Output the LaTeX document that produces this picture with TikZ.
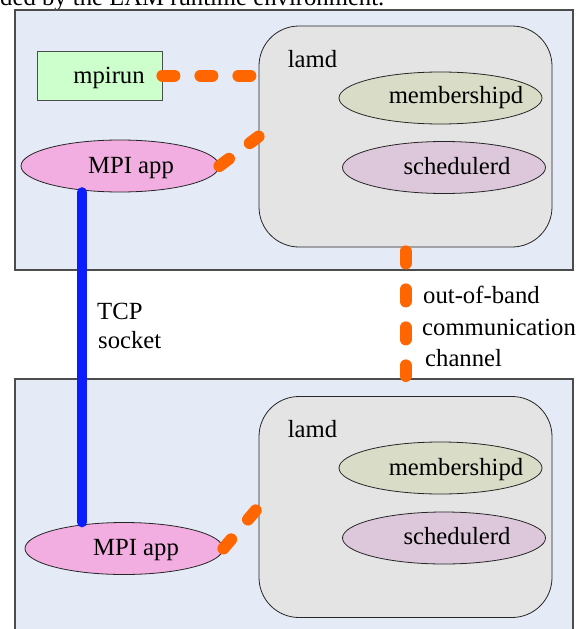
\documentclass[tikz,border=0pt]{standalone}
\usepackage{fontspec}
\setmainfont{Liberation Serif}
\usetikzlibrary{shapes.geometric}

\definecolor{hostfill}{HTML}{E4EBF6}
\definecolor{lamdfill}{HTML}{E4E4E4}
\definecolor{membfill}{HTML}{D9DDC7}
\definecolor{schedfill}{HTML}{DDC7DA}
\definecolor{appfill}{HTML}{F2AEE0}
\definecolor{runfill}{HTML}{CCFFCC}
\definecolor{oobcolor}{HTML}{FF6600}
\definecolor{tcpcolor}{HTML}{0A1EFF}

\tikzset{
  txt/.style={font=\fontsize{24.7}{29}\selectfont, inner sep=0pt},
  hostbox/.style={rectangle, draw=black!70, line width=1.4pt, fill=hostfill, inner sep=0pt},
  lamdbox/.style={rectangle, rounded corners=40pt, draw=black!85, line width=0.8pt,
                  fill=lamdfill, minimum width=293pt, minimum height=221pt, inner sep=0pt},
  daemon/.style={ellipse, draw=black!85, line width=0.8pt, minimum width=203pt,
                 minimum height=52pt, inner sep=0pt},
  appnode/.style={ellipse, draw=black!85, line width=0.8pt, fill=appfill,
                  minimum width=198pt, minimum height=52pt, inner sep=0pt},
  runbox/.style={rectangle, draw=black!70, line width=0.8pt, fill=runfill,
                 minimum width=125pt, minimum height=49pt, inner sep=0pt},
  oob/.style={draw=oobcolor, line width=12pt, line cap=round, dash pattern=on 12pt off 26pt},
  tcp/.style={draw=tcpcolor, line width=10.5pt, line cap=round}
}

\begin{document}
\begin{tikzpicture}[x=1pt, y=-1pt]
  \clip (0,0) rectangle (587,629);

  % caption line running in from the page above
  \node[txt, anchor=base west] (caption) at (0,5.5) {ded by the LAM runtime environment.};

  % the two hosts
  \node[hostbox, minimum width=558pt, minimum height=260pt] (host1) at (294,140) {};
  \node[hostbox, minimum width=558pt, minimum height=270pt] (host2) at (294,514) {};

  % LAM daemons with their internal services
  \node[lamdbox] (lamd1) at (405.5,136.5) {};
  \node[lamdbox] (lamd2) at (405.5,507) {};
  \node[daemon, fill=membfill] (memb1) at (440.5,98) {};
  \node[daemon, fill=schedfill] (sched1) at (444,167.5) {};
  \node[daemon, fill=membfill] (memb2) at (440.5,468) {};
  \node[daemon, fill=schedfill] (sched2) at (444,538) {};

  % user processes
  \node[runbox] (mpirun) at (99.5,75.5) {};
  \node[appnode] (app1) at (120,166) {};
  \node[appnode] (app2) at (124,548.5) {};

  % out-of-band links
  \coordinate (oobend) at (405.5,376);
  \draw[oob] (mpirun.east) -- (mpirun.east -| lamd1.west);
  \draw[oob] (app1.east) -- (lamd1.west);
  \draw[oob] (app2.east) -- (lamd2.west);
  \draw[oob] ([yshift=-4pt]lamd1.south) -- (oobend);

  % MPI traffic
  \draw[tcp] ([xshift=-38pt]app1.south) -- ([xshift=-42pt]app2.north);

  % labels
  \node[txt, anchor=base west, xshift=29pt, yshift=-42pt] (lamdtxt1) at (lamd1.north west) {lamd};
  \node[txt, anchor=base west, xshift=29pt, yshift=-41pt] (lamdtxt2) at (lamd2.north west) {lamd};
  \node[txt, anchor=base, xshift=15.5pt, yshift=-5.5pt] (membtxt1) at (memb1.center) {membershipd};
  \node[txt, anchor=base, xshift=13pt, yshift=-6.5pt] (schedtxt1) at (sched1.center) {schedulerd};
  \node[txt, anchor=base, xshift=15.5pt, yshift=-7pt] (membtxt2) at (memb2.center) {membershipd};
  \node[txt, anchor=base, xshift=13pt, yshift=-6pt] (schedtxt2) at (sched2.center) {schedulerd};
  \node[txt, anchor=base, xshift=9.5pt, yshift=-7.5pt] (runtxt) at (mpirun.center) {mpirun};
  \node[txt, anchor=base, xshift=11pt, yshift=-7pt] (apptxt1) at (app1.center) {MPI app};
  \node[txt, anchor=base, xshift=12pt, yshift=-6.5pt] (apptxt2) at (app2.center) {MPI app};

  \node[txt, anchor=base west] (tcptxt1) at (97,319) {TCP};
  \node[txt, anchor=base west] (tcptxt2) at (98,348) {socket};
  \node[txt, anchor=base west] (oobtxt1) at (423,303) {out-of-band};
  \node[txt, anchor=base west] (oobtxt2) at (422,335) {communication};
  \node[txt, anchor=base west] (oobtxt3) at (425,366) {channel};
\end{tikzpicture}
\end{document}
